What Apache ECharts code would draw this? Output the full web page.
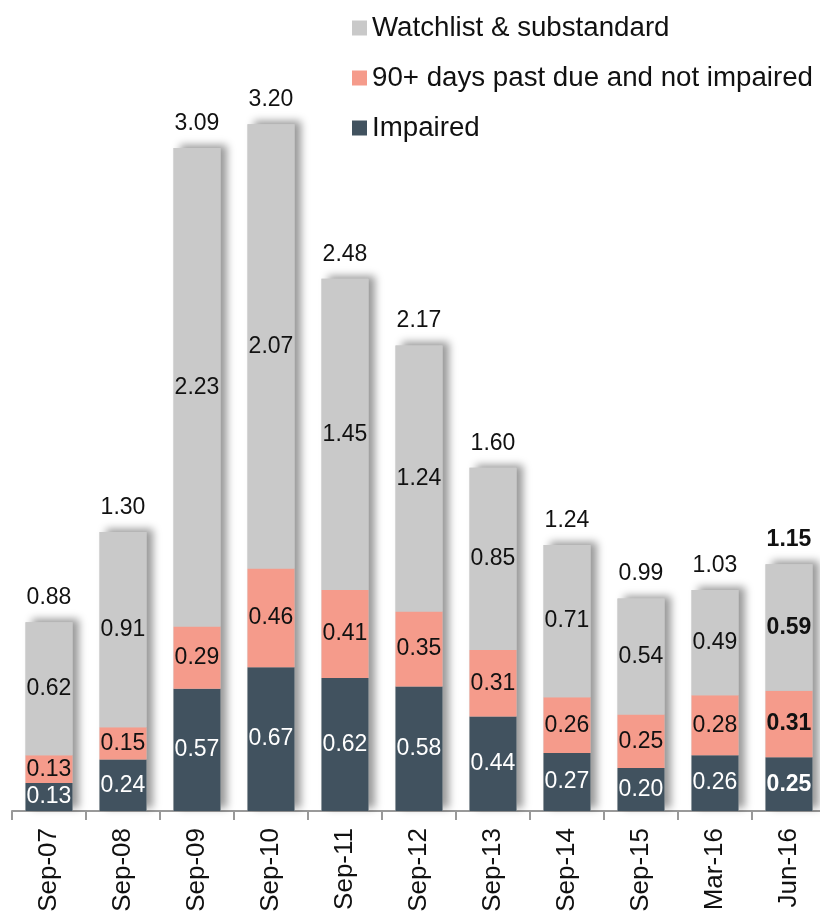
<!DOCTYPE html>
<html>
<head>
<meta charset="utf-8">
<script src="https://cdn.jsdelivr.net/npm/echarts@6/dist/echarts.min.js"></script>
<style>
html,body{margin:0;padding:0;background:#fff;}
#c{width:820px;height:911px;}
</style>
</head>
<body>
<div id="c"></div>
<script>
var categories = ['Sep-07','Sep-08','Sep-09','Sep-10','Sep-11','Sep-12','Sep-13','Sep-14','Sep-15','Mar-16','Jun-16'];
var impaired = [0.13,0.24,0.57,0.67,0.62,0.58,0.44,0.27,0.20,0.26,0.25];
var pastDue = [0.13,0.15,0.29,0.46,0.41,0.35,0.31,0.26,0.25,0.28,0.31];
var watchlist = [0.62,0.91,2.23,2.07,1.45,1.24,0.85,0.71,0.54,0.49,0.59];
var totals = [0.88,1.30,3.09,3.20,2.48,2.17,1.60,1.24,0.99,1.03,1.15];
var seriesNames = ['Watchlist & substandard','90+ days past due and not impaired','Impaired'];
var boldIndex = 10;

var FONT = '"Liberation Sans", Arial, sans-serif';
var BW = 47;

function mk(vals, color) {
  return vals.map(function (v, i) {
    return {
      value: v,
      label: { fontWeight: i === boldIndex ? 'bold' : 'normal', color: color }
    };
  });
}

var chart = echarts.init(document.getElementById('c'));
chart.setOption({
  animation: false,
  backgroundColor: '#fff',
  legend: {
    data: seriesNames,
    orient: 'vertical',
    left: 347,
    top: 8,
    itemWidth: 15,
    itemHeight: 15,
    itemGap: 20,
    icon: 'rect',
    textStyle: { fontFamily: FONT, fontSize: 27.7, color: '#111', lineHeight: 30 }
  },
  grid: { left: 12, width: 814, top: 60, bottom: 100, containLabel: false, outerBoundsMode: 'none' },
  xAxis: {
    type: 'category',
    data: categories,
    axisLine: { lineStyle: { color: '#999', width: 2 } },
    axisTick: { show: true, length: 9, lineStyle: { color: '#999', width: 2 } },
    axisLabel: { rotate: 90, margin: 17, fontFamily: FONT, fontSize: 26, color: '#111' }
  },
  yAxis: {
    type: 'value', min: 0, max: 3.5, show: false,
    splitLine: { show: false }
  },
  series: [
    {
      name: 'Total',
      type: 'bar',
      barWidth: BW,
      barGap: '-100%',
      z: 1,
      data: totals.map(function (v, i) {
        return { value: v, label: { fontWeight: i === boldIndex ? 'bold' : 'normal' } };
      }),
      itemStyle: {
        color: '#c9c9c9',
        shadowColor: 'rgba(0,0,0,0.4)',
        shadowBlur: 8,
        shadowOffsetX: 6,
        shadowOffsetY: -3
      },
      label: {
        show: true, position: 'top', distance: 13,
        fontFamily: FONT, fontSize: 23, color: '#111',
        formatter: function (p) { return p.value.toFixed(2); }
      }
    },
    {
      name: 'Impaired',
      type: 'bar', stack: 's', barWidth: BW, z: 3,
      itemStyle: { color: '#41525f' },
      data: mk(impaired, '#fff'),
      label: {
        show: true, position: 'inside', fontFamily: FONT, fontSize: 23,
        formatter: function (p) { return p.value.toFixed(2); }
      }
    },
    {
      name: '90+ days past due and not impaired',
      type: 'bar', stack: 's', barWidth: BW, z: 3,
      itemStyle: { color: '#f59b8b' },
      data: mk(pastDue, '#111'),
      label: {
        show: true, position: 'inside', fontFamily: FONT, fontSize: 23,
        formatter: function (p) { return p.value.toFixed(2); }
      }
    },
    {
      name: 'Watchlist & substandard',
      type: 'bar', stack: 's', barWidth: BW, z: 3,
      itemStyle: { color: '#c9c9c9' },
      data: mk(watchlist, '#111'),
      label: {
        show: true, position: 'inside', fontFamily: FONT, fontSize: 23,
        formatter: function (p) { return p.value.toFixed(2); }
      }
    }
  ]
});
</script>
</body>
</html>
